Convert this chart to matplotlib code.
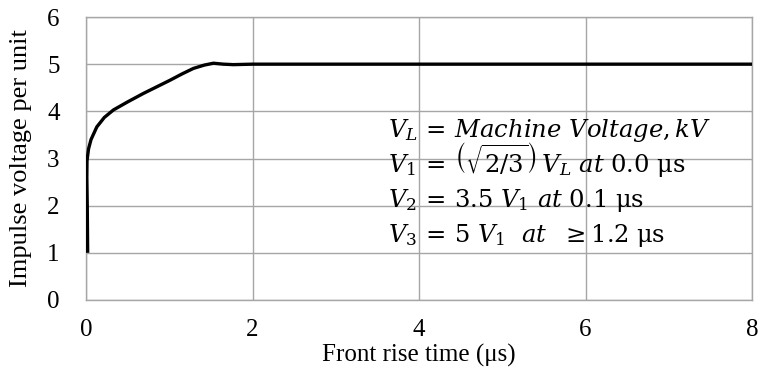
import matplotlib
matplotlib.use("Agg")
import matplotlib.pyplot as plt

# impulse front (per unit) vs front rise time
time_us = [0.02, 0.015, 0.01, 0.012, 0.03, 0.06, 0.13, 0.22, 0.33, 0.5, 0.69, 0.85,
           1.01, 1.15, 1.29, 1.42, 1.53, 1.65, 1.77, 2.0, 3.0, 5.0, 8.0]
voltage_pu = [1.0, 2.0, 2.6, 2.95, 3.2, 3.4, 3.67, 3.87, 4.03, 4.2, 4.38, 4.52,
              4.66, 4.79, 4.91, 4.98, 5.02, 5.0, 4.99, 5.0, 5.0, 5.0, 5.0]

x_ticks = [0, 2, 4, 6, 8]
y_ticks = [0, 1, 2, 3, 4, 5, 6]

notes = [
    r"$V_L\, =\, Machine\ Voltage, kV$",
    r"$V_1\, =\, \left(\sqrt{2/3}\right)\, V_L\ at\ \mathrm{0.0\ \mu s}$",
    r"$V_2\, =\, \mathrm{3.5}\ V_1\ at\ \mathrm{0.1\ \mu s}$",
    r"$V_3\, =\, \mathrm{5}\ V_1\ \ at\ \ \geq\mathrm{1.2\ \mu s}$",
]

plt.rcParams['font.family'] = 'Liberation Serif'
plt.rcParams['mathtext.fontset'] = 'dejavuserif'

fig = plt.figure(figsize=(7.61, 3.70), dpi=100)
ax = fig.add_axes([86 / 761, 70 / 370, 666 / 761, 283 / 370])

ax.plot(time_us, voltage_pu, color='black', lw=2.4, solid_capstyle='butt', zorder=3)

ax.set_xlim(0, 8)
ax.set_ylim(0, 6)
ax.set_xticks(x_ticks)
ax.set_yticks(y_ticks)
ax.grid(True, color='#a6a6a6', lw=1.0)
for s in ax.spines.values():
    s.set_color('#a6a6a6')
    s.set_linewidth(1.0)
ax.tick_params(length=0, labelsize=18)
ax.tick_params(axis='x', pad=14)
ax.tick_params(axis='y', pad=19)

ax.set_xlabel('Front rise time (\u03bcs)', fontsize=18, labelpad=2)
ax.set_ylabel('Impulse voltage per unit', fontsize=19, labelpad=11)

# formula block, one line per text
y0 = 0.630
for i, t in enumerate(notes):
    fig.text(388 / 761, y0 - i * 0.095, t, fontsize=17.5, ha='left', va='baseline')

fig.savefig('out.png', dpi=100)
